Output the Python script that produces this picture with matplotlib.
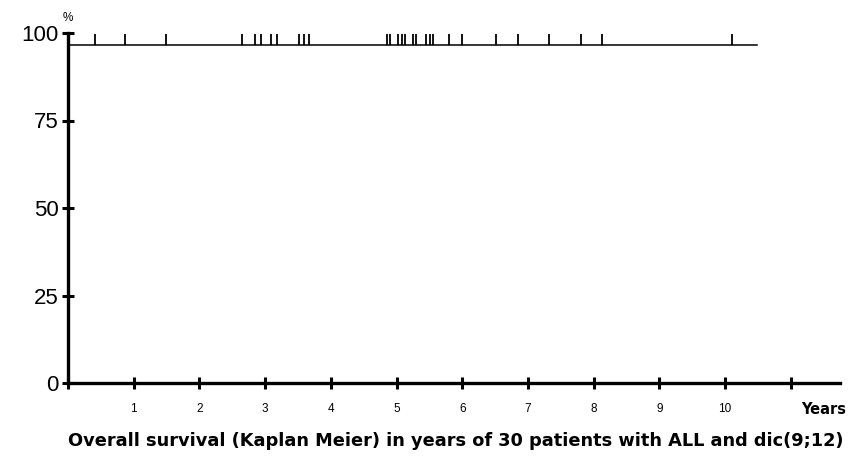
import matplotlib
matplotlib.use('Agg')
import matplotlib.pyplot as plt

# Kaplan-Meier curve: one early event, flat afterwards
surv_times = [0.0, 0.02, 10.49]
surv_values = [100.0, 96.7, 96.7]

# Censored patients (years)
censor_times = [0.41, 0.87, 1.49, 2.65, 2.85, 2.94, 3.09, 3.18, 3.52, 3.59, 3.67,
                4.86, 4.90, 5.02, 5.08, 5.13, 5.25, 5.30, 5.45, 5.51, 5.56, 5.80,
                6.00, 6.51, 6.85, 7.32, 7.81, 8.13, 10.11]

x_ticks = list(range(0, 12))
x_labels = ['', '1', '2', '3', '4', '5', '6', '7', '8', '9', '10', '']
y_ticks = [0, 25, 50, 75, 100]
y_labels = ['0', '25', '50', '75', '100']

fig = plt.figure(figsize=(8.49, 4.63), dpi=100)
ax = fig.add_axes([68 / 849, 1 - 383 / 463, (840 - 68) / 849, 350 / 463])

ax.step(surv_times, surv_values, where='post', color='black', lw=1.1)
ax.vlines(censor_times, 96.7, 99.6, color='black', lw=1.3)

ax.set_xlim(0, 11.75)
ax.set_ylim(0, 100)

for side in ['top', 'right']:
    ax.spines[side].set_visible(False)
for side in ['left', 'bottom']:
    ax.spines[side].set_linewidth(2.4)

ax.set_xticks(x_ticks)
ax.set_xticklabels(x_labels, fontsize=8.5, family='Liberation Sans')
ax.set_yticks(y_ticks)
ax.set_yticklabels(y_labels, fontsize=16, family='Liberation Sans')
ax.tick_params(axis='x', direction='inout', length=9, width=2.2, pad=10)
ax.tick_params(axis='y', direction='inout', length=9, width=2.2, pad=2)

ax.text(0, 102.5, '%', fontsize=8.5, family='Liberation Sans', ha='center', va='bottom')
fig.text(824 / 849, 1 - 409 / 463, 'Years', fontsize=10.5, fontweight='bold', ha='center', va='center')
fig.text(456 / 849, 1 - 441 / 463,
         'Overall survival (Kaplan Meier) in years of 30 patients with ALL and dic(9;12)',
         fontsize=12.8, fontweight='bold', ha='center', va='center')

fig.savefig('out.png', dpi=100)
